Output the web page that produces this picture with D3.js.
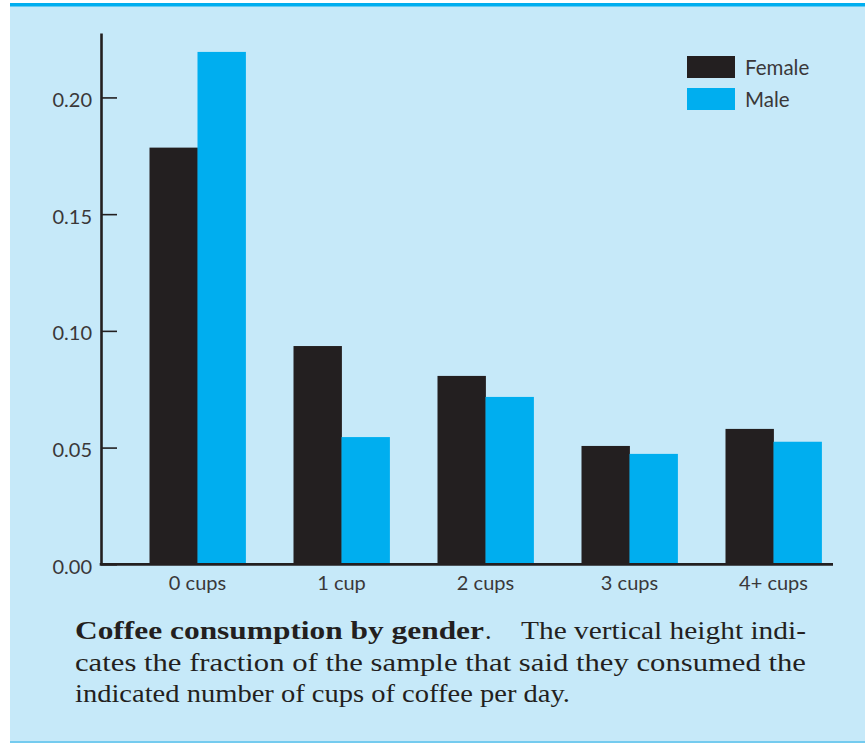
<!DOCTYPE html>
<html>
<head>
<meta charset="utf-8">
<script src="https://cdn.jsdelivr.net/npm/d3@7"></script>
<style>
  html, body { margin: 0; padding: 0; background: #ffffff; }
  svg { display: block; }
</style>
</head>
<body>
<svg id="chart" width="865" height="746"></svg>
<script>
// ---- data ----
const categories = ["0 cups", "1 cup", "2 cups", "3 cups", "4+ cups"];
const seriesNames = ["Female", "Male"];
const femaleValues = [0.1785, 0.0935, 0.0807, 0.0507, 0.0580];
const maleValues   = [0.2195, 0.0545, 0.0717, 0.0473, 0.0525];
const yTickValues  = [0.00, 0.05, 0.10, 0.15, 0.20];
const captionBold  = "Coffee consumption by gender";
const captionLines = [
  ".  The vertical height indi-",
  "cates the fraction of the sample that said they consumed the",
  "indicated number of cups of coffee per day."
];

const colors = { Female: "#231f20", Male: "#00aeef" };
const bg = "#c6e9f9";
const ink = "#231f20";
const labelInk = "#3a3839";

const svg = d3.select("#chart");

// panel
svg.append("rect").attr("x", 10).attr("y", 0).attr("width", 855).attr("height", 746).attr("fill", bg);
svg.append("rect").attr("x", 10).attr("y", 0).attr("width", 855).attr("height", 3).attr("fill", "#ffffff");
svg.append("rect").attr("x", 10).attr("y", 3).attr("width", 855).attr("height", 3.5).attr("fill", "#00aeef");
svg.append("rect").attr("x", 10).attr("y", 741).attr("width", 855).attr("height", 2).attr("fill", "#74cbef");
svg.append("rect").attr("x", 10).attr("y", 743).attr("width", 855).attr("height", 3).attr("fill", "#ffffff");

// scales
const x = d3.scaleBand().domain(categories).range([125.5, 845.5])
  .paddingInner(1/3).paddingOuter(1/6);
const xs = d3.scaleBand().domain(seriesNames).range([0, x.bandwidth()]);
const y = d3.scaleLinear().domain([0, 0.2276]).range([564.3, 33]);

const rows = categories.map((c, i) => ({ cat: c, Female: femaleValues[i], Male: maleValues[i] }));

// bars
const g = svg.append("g");
rows.forEach(r => {
  seriesNames.forEach(s => {
    g.append("rect")
      .attr("x", x(r.cat) + xs(s))
      .attr("width", xs.bandwidth() + 0.4)
      .attr("y", y(r[s]))
      .attr("height", y(0) - y(r[s]))
      .attr("fill", colors[s]);
  });
});

// y axis
const yAxis = d3.axisLeft(y).tickValues(yTickValues).tickFormat(d3.format(".2f"))
  .tickSizeInner(-16).tickSizeOuter(0).tickPadding(9);
const ya = svg.append("g").attr("transform", "translate(101,0)").call(yAxis);
ya.select(".domain").attr("stroke", ink).attr("stroke-width", 2.6);
ya.selectAll(".tick line").attr("stroke", ink).attr("stroke-width", 1.6);
ya.selectAll(".tick text").attr("fill", labelInk).attr("font-family", "Lato, 'Open Sans', sans-serif")
  .attr("font-size", 20).attr("dy", "0.45em").attr("x", -9);

// x axis
const xAxis = d3.axisBottom(x).tickSize(0).tickPadding(0);
const xa = svg.append("g").attr("transform", `translate(0,${y(0)})`).call(xAxis);
xa.select(".domain").remove();
xa.selectAll(".tick text").attr("fill", labelInk).attr("font-family", "Lato, 'Open Sans', sans-serif")
  .attr("font-size", 20).attr("dy", 0).attr("y", 26);
svg.append("line").attr("x1", 99.7).attr("x2", 833).attr("y1", y(0)).attr("y2", y(0))
  .attr("stroke", ink).attr("stroke-width", 2.8);

// legend
const lg = svg.append("g").attr("transform", "translate(687,56)");
seriesNames.forEach((s, i) => {
  lg.append("rect").attr("x", 0).attr("y", i * 32).attr("width", 48).attr("height", 22).attr("fill", colors[s]);
  lg.append("text").attr("x", 58).attr("y", i * 32 + 18.5).text(s)
    .attr("fill", labelInk).attr("font-family", "Lato, 'Open Sans', sans-serif").attr("font-size", 20.5);
});

// caption
const cap = svg.append("g").attr("fill", "#231f20").attr("font-family", "'Liberation Serif', 'DejaVu Serif', serif").attr("font-size", 26);
cap.append("text").attr("x", 75).attr("y", 639).attr("font-weight", "bold")
  .attr("textLength", 409).attr("lengthAdjust", "spacingAndGlyphs").text(captionBold);
cap.append("text").attr("x", 485).attr("y", 639).text(".");
cap.append("text").attr("x", 521).attr("y", 639)
  .attr("textLength", 285).attr("lengthAdjust", "spacingAndGlyphs").text(captionLines[0].replace(/^\.\s+/, ""));
cap.append("text").attr("x", 75).attr("y", 670.5)
  .attr("textLength", 731).attr("lengthAdjust", "spacingAndGlyphs").text(captionLines[1]);
cap.append("text").attr("x", 75).attr("y", 701.5)
  .attr("textLength", 495).attr("lengthAdjust", "spacingAndGlyphs").text(captionLines[2]);
</script>
</body>
</html>
